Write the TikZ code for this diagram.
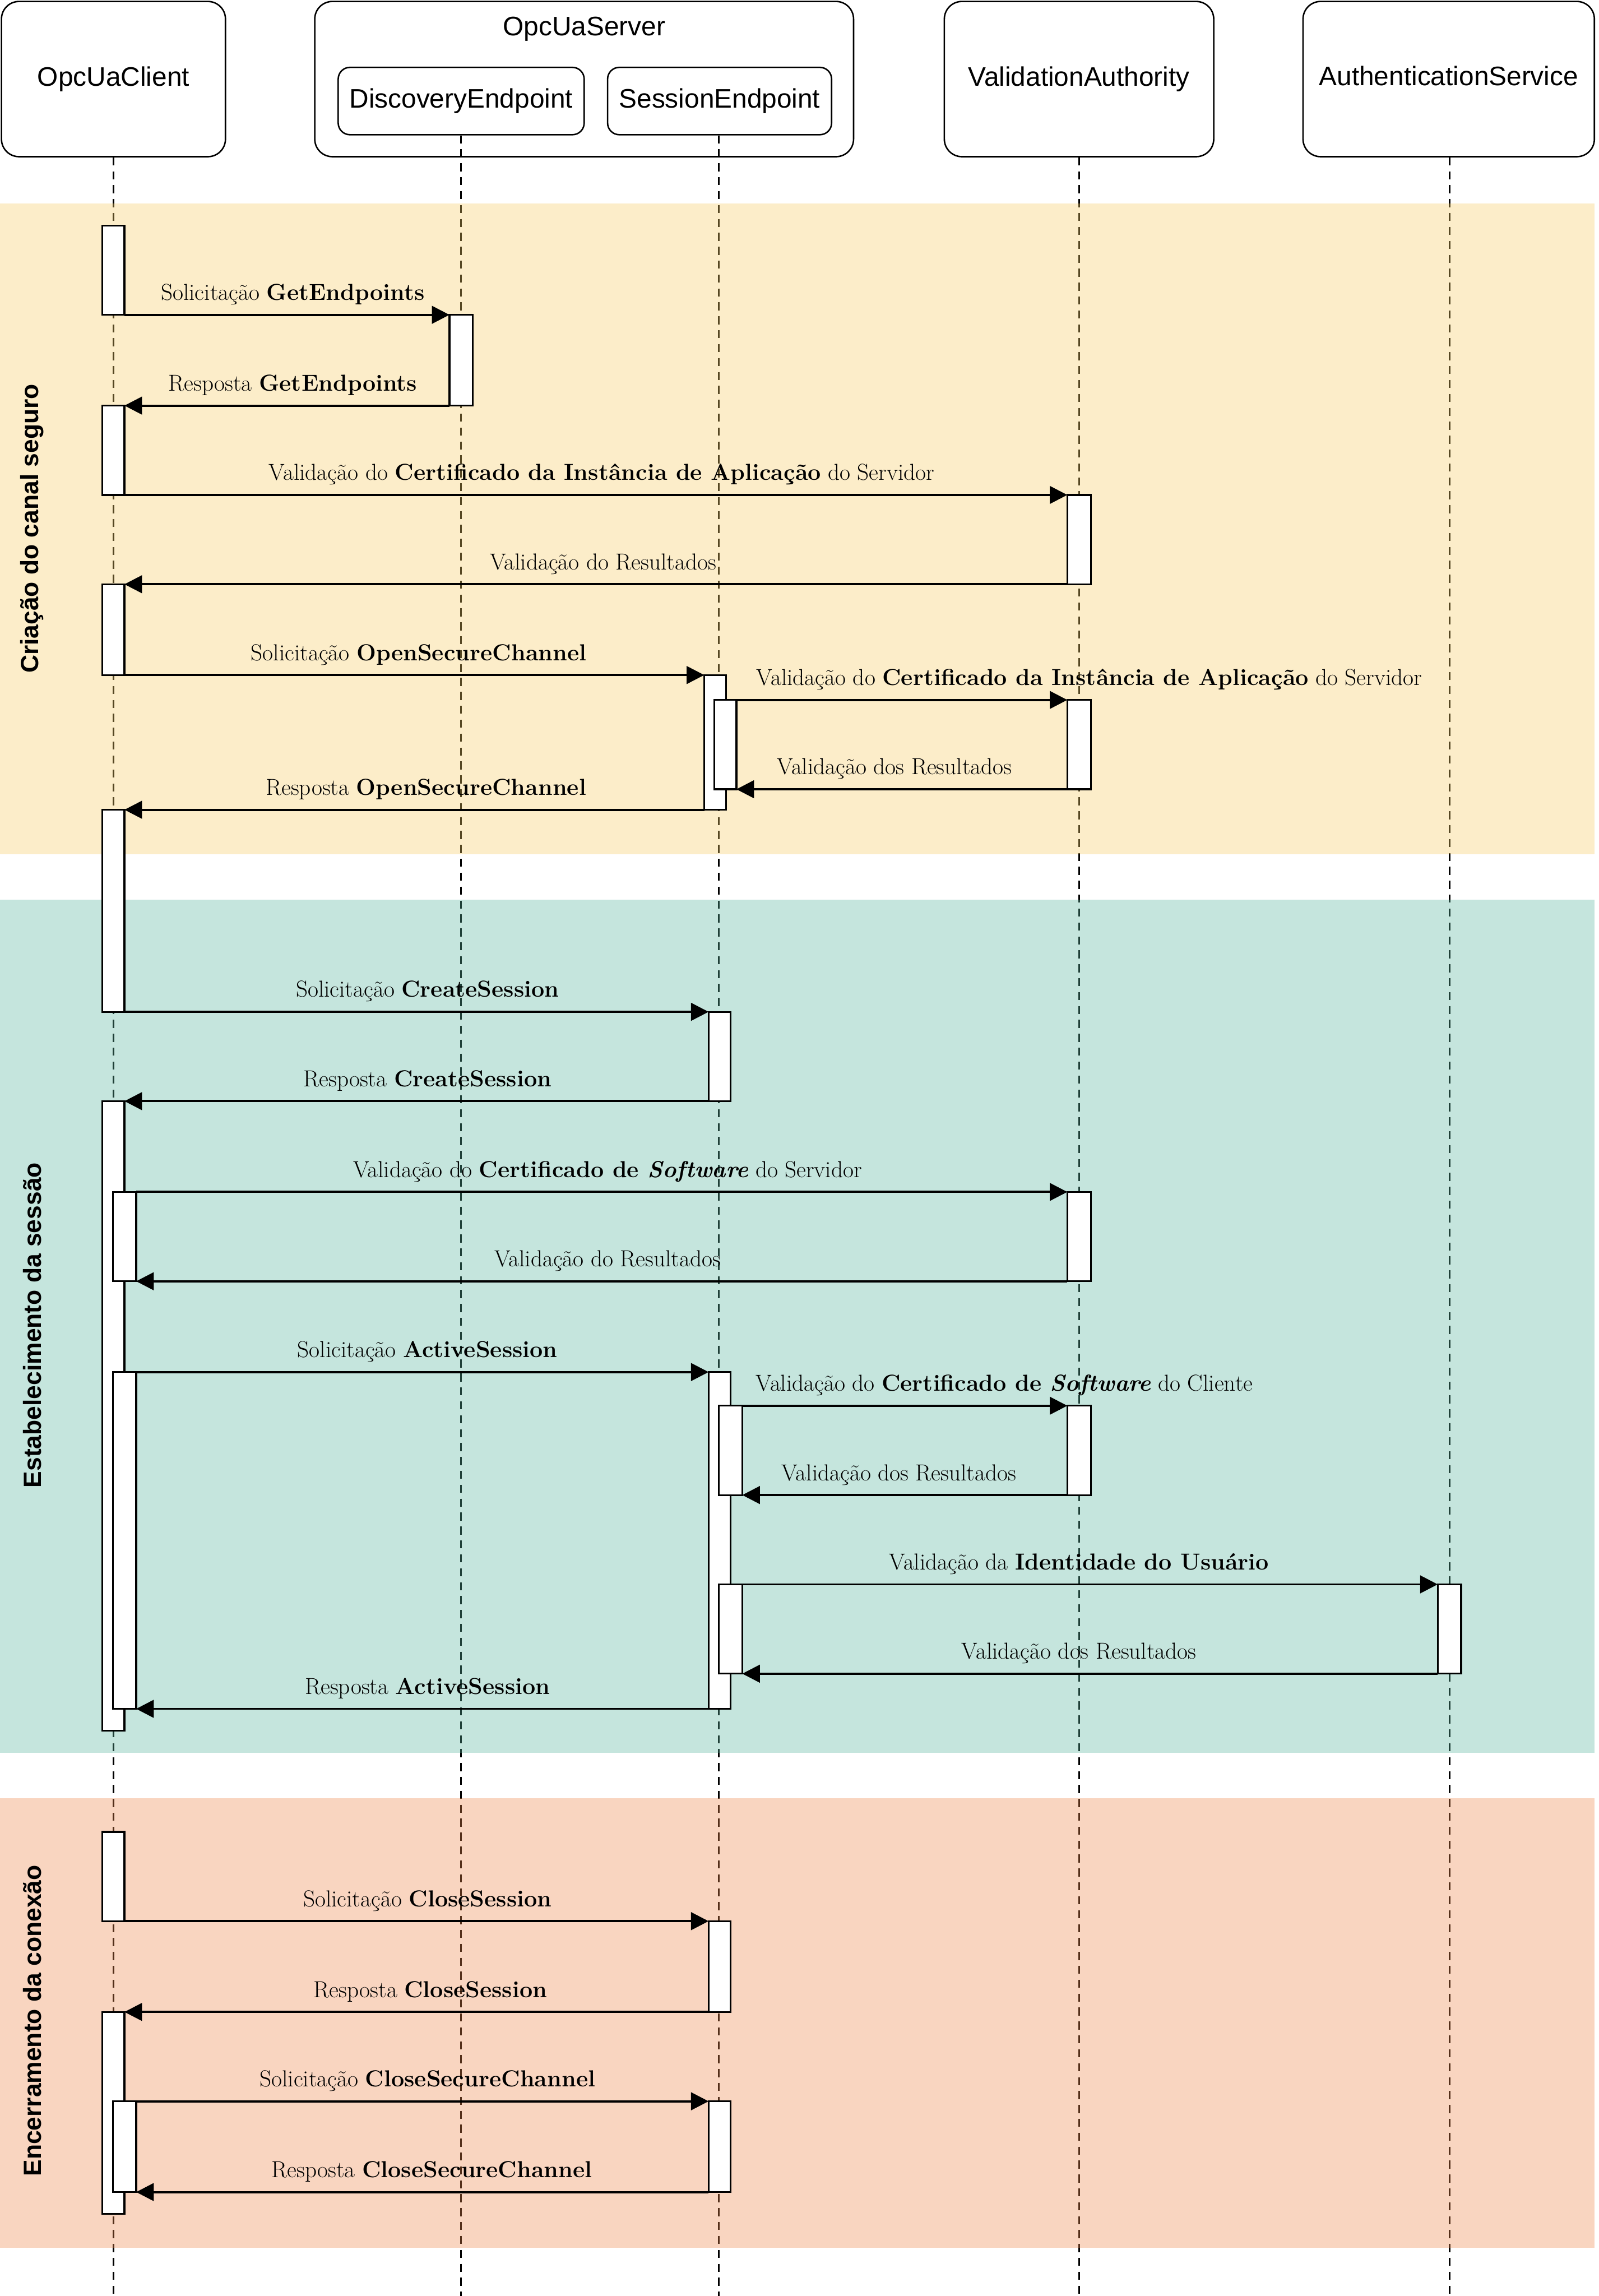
\documentclass[tikz,border=0pt]{standalone}
\usepackage{fontspec}
\newfontfamily\headfont{Liberation Sans}
\usetikzlibrary{arrows.meta,fit}
\definecolor{bandY}{RGB}{246,204,101}
\definecolor{bandG}{RGB}{89,181,158}
\definecolor{bandS}{RGB}{238,135,75}
\begin{document}
\begin{tikzpicture}[x=1pt,y=-1pt,
  headbox/.style={draw, line width=1pt, fill=white, rounded corners=12pt, inner sep=0pt},
  subbox/.style={draw, line width=1pt, fill=white, rounded corners=8pt, inner sep=0pt},
  headtext/.style={font=\headfont\fontsize{18.3}{22}\selectfont, inner sep=0pt},
  lifeline/.style={draw=black, line width=1.1pt, dash pattern=on 5.5pt off 4pt},
  band/.style={fill opacity=0.35, draw=none},
  actbar/.style={draw, line width=1.2pt, fill=white, inner sep=0pt, outer sep=0pt},
  msg/.style={line width=1.5pt, -{Triangle[length=12pt,width=12pt]}},
  msglabel/.style={font=\fontsize{15.8}{19}\selectfont, anchor=base, inner sep=0pt},
  sidelabel/.style={font=\headfont\bfseries\fontsize{17}{20}\selectfont, rotate=90, inner sep=0pt}
]
\useasboundingbox (0,0) rectangle (1092,1568);
\coordinate (bottom) at (0,1568);

% participants
\node[headbox, fit={(1,1)(154,107)}] (client) {};
\node[headtext] (clientT) at (client.center) {OpcUaClient};
\node[headbox, fit={(215,1)(583,107)}] (server) {};
\node[headtext] (serverT) at (399,20) {OpcUaServer};
\node[subbox, fit={(231,46)(399,92)}] (disc) {};
\node[headtext] (discT) at (disc.center) {DiscoveryEndpoint};
\node[subbox, fit={(415,46)(568,92)}] (sess) {};
\node[headtext] (sessT) at (sess.center) {SessionEndpoint};
\node[headbox, fit={(645,1)(829,107)}] (va) {};
\node[headtext] (vaT) at (va.center) {ValidationAuthority};
\node[headbox, fit={(890,1)(1089,107)}] (as) {};
\node[headtext] (asT) at ([yshift=2pt]as.center) {AuthenticationService};

% lifelines
\draw[lifeline] (77.5,107.5) -- (77.5,1568);
\draw[lifeline] (315,92.5) -- (315,1568);
\draw[lifeline] (491,92.5) -- (491,1568);
\draw[lifeline] (737,107.5) -- (737,1568);
\draw[lifeline] (990,107.5) -- (990,1568);

% bands
\fill[bandY, band] (0,139) rectangle (1089,583.5);
\fill[bandG, band] (0,614.5) rectangle (1089,1197);
\fill[bandS, band] (0,1228) rectangle (1089,1535);

\node[sidelabel] (lab1) at (22,361) {Criação do canal seguro};
\node[sidelabel] (lab2) at (22,905) {Estabelecimento da sessão};
\node[sidelabel] (lab3) at (22,1380) {Encerramento da conexão};

% activation bars
\node[actbar, fit={(70,154)(85,215)}] (cA1) {};
\node[actbar, fit={(70,277)(85,338)}] (cA2) {};
\node[actbar, fit={(70,399)(85,461)}] (cA3) {};
\node[actbar, fit={(70,553)(85,691)}] (cA4) {};
\node[actbar, fit={(70,752)(85,1182)}] (cL) {};
\node[actbar, fit={(77,814)(93,875)}] (cn1) {};
\node[actbar, fit={(77,937)(93,1167)}] (cn2) {};
\node[actbar, fit={(70,1251)(85,1312)}] (cC1) {};
\node[actbar, fit={(70,1374)(85,1512)}] (cC2) {};
\node[actbar, fit={(77,1435)(93,1497)}] (cn3) {};
\node[actbar, fit={(307,215)(323,277)}] (d1) {};
\node[actbar, fit={(481,461)(496,553)}] (s1) {};
\node[actbar, fit={(488,478)(503,539)}] (s1i) {};
\node[actbar, fit={(484,691)(499,752)}] (s2) {};
\node[actbar, fit={(484,937)(499,1167)}] (s3) {};
\node[actbar, fit={(491,960)(507,1021)}] (s3a) {};
\node[actbar, fit={(491,1082)(507,1143)}] (s3b) {};
\node[actbar, fit={(484,1312)(499,1374)}] (s4) {};
\node[actbar, fit={(484,1435)(499,1497)}] (s5) {};
\node[actbar, fit={(729,338)(745,399)}] (va1) {};
\node[actbar, fit={(729,478)(745,539)}] (va2) {};
\node[actbar, fit={(729,814)(745,875)}] (va3) {};
\node[actbar, fit={(729,960)(745,1021)}] (va4) {};
\node[actbar, fit={(982,1082)(998,1143)}] (as1) {};

% messages
\draw[msg] (cA1.south east) -- (d1.north west);
\draw[msg] (d1.south west) -- (cA2.north east);
\draw[msg] (cA2.south east) -- (va1.north west);
\draw[msg] (va1.south west) -- (cA3.north east);
\draw[msg] (cA3.south east) -- (s1.north west);
\draw[msg] (s1i.north east) -- (va2.north west);
\draw[msg] (va2.south west) -- (s1i.south east);
\draw[msg] (s1.south west) -- (cA4.north east);
\draw[msg] (cA4.south east) -- (s2.north west);
\draw[msg] (s2.south west) -- (cL.north east);
\draw[msg] (cn1.north east) -- (va3.north west);
\draw[msg] (va3.south west) -- (cn1.south east);
\draw[msg] (cn2.north east) -- (s3.north west);
\draw[msg] (s3a.north east) -- (va4.north west);
\draw[msg] (va4.south west) -- (s3a.south east);
\draw[msg] (s3b.north east) -- (as1.north west);
\draw[msg] (as1.south west) -- (s3b.south east);
\draw[msg] (s3.south west) -- (cn2.south east);
\draw[msg] (cC1.south east) -- (s4.north west);
\draw[msg] (s4.south west) -- (cC2.north east);
\draw[msg] (cn3.north east) -- (s5.north west);
\draw[msg] (s5.south west) -- (cn3.south east);

% labels
\node[msglabel] (l1) at (200,205) {Solicitação \textbf{GetEndpoints}};
\node[msglabel] (l2) at (200,267) {Resposta \textbf{GetEndpoints}};
\node[msglabel] (l3) at (411,328) {Validação do \textbf{Certificado da Instância de Aplicação} do Servidor};
\node[msglabel] (l4) at (412,389) {Validação do Resultados};
\node[msglabel] (l5) at (286,451) {Solicitação \textbf{OpenSecureChannel}};
\node[msglabel] (l6) at (744,468) {Validação do \textbf{Certificado da Instância de Aplicação} do Servidor};
\node[msglabel] (l7) at (611,529) {Validação dos Resultados};
\node[msglabel] (l8) at (291,543) {Resposta \textbf{OpenSecureChannel}};
\node[msglabel] (l9) at (292,681) {Solicitação \textbf{CreateSession}};
\node[msglabel] (l10) at (292,742) {Resposta \textbf{CreateSession}};
\node[msglabel] (l11) at (415,804) {Validação do \textbf{Certificado de \textit{Software}} do Servidor};
\node[msglabel] (l12) at (415,865) {Validação do Resultados};
\node[msglabel] (l13) at (292,927) {Solicitação \textbf{ActiveSession}};
\node[msglabel] (l14) at (686,950) {Validação do \textbf{Certificado de \textit{Software}} do Cliente};
\node[msglabel] (l15) at (614,1011) {Validação dos Resultados};
\node[msglabel] (l16) at (737,1072) {Validação da \textbf{Identidade do Usuário}};
\node[msglabel] (l17) at (737,1133) {Validação dos Resultados};
\node[msglabel] (l18) at (292,1157) {Resposta \textbf{ActiveSession}};
\node[msglabel] (l19) at (292,1302) {Solicitação \textbf{CloseSession}};
\node[msglabel] (l20) at (294,1364) {Resposta \textbf{CloseSession}};
\node[msglabel] (l21) at (292,1425) {Solicitação \textbf{CloseSecureChannel}};
\node[msglabel] (l22) at (295,1487) {Resposta \textbf{CloseSecureChannel}};
\end{tikzpicture}
\end{document}
